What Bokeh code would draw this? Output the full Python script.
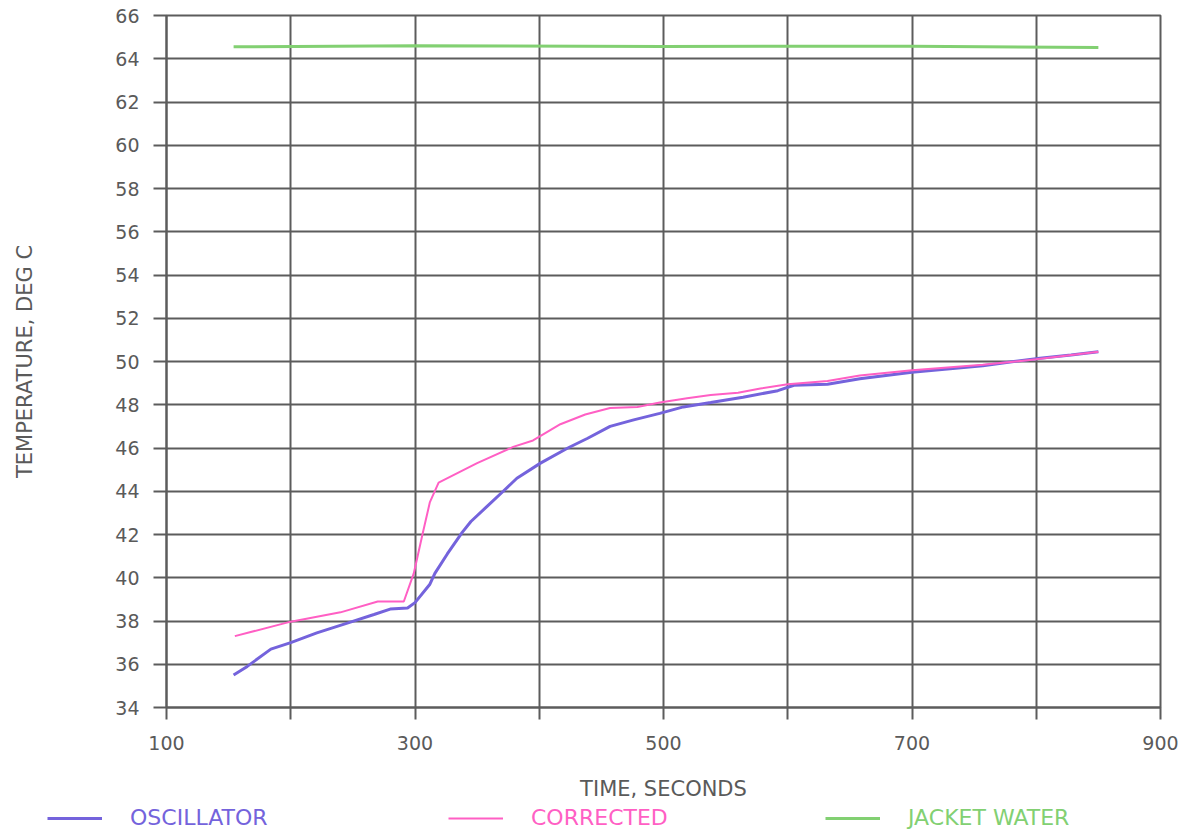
from bokeh.plotting import figure
from bokeh.layouts import column
from bokeh.models import Range1d, FixedTicker, Legend, LegendItem
from bokeh.embed import file_html
from bokeh.resources import INLINE

# ---- data ----
osc_t = [154, 165, 184, 200, 221, 248, 267, 280, 294, 300, 312, 316, 326, 338, 345, 358,
         371, 382, 401, 423, 439, 457, 476, 497, 516, 538, 564, 592, 605, 632, 658, 700,
         757, 782, 803, 828, 850]
osc_T = [35.5, 35.9, 36.7, 37.0, 37.45, 37.95, 38.3, 38.55, 38.6, 38.85, 39.7, 40.2, 41.1,
         42.1, 42.6, 43.3, 44.0, 44.6, 45.3, 46.0, 46.45, 47.0, 47.3, 47.6, 47.9, 48.1,
         48.35, 48.65, 48.9, 48.95, 49.2, 49.5, 49.8, 50.0, 50.15, 50.3, 50.45]

cor_t = [155, 200, 240, 270, 291, 299, 306, 312, 319, 350, 379, 395, 417, 437, 457, 479,
         497, 519, 538, 560, 578, 600, 632, 658, 700, 757, 800, 850]
cor_T = [37.3, 37.97, 38.4, 38.9, 38.9, 40.2, 42.0, 43.5, 44.4, 45.3, 46.05, 46.35, 47.1,
         47.55, 47.85, 47.9, 48.1, 48.3, 48.45, 48.55, 48.75, 48.95, 49.1, 49.35, 49.6,
         49.85, 50.1, 50.45]

jw_t = [154, 300, 500, 700, 850]
jw_T = [64.55, 64.6, 64.57, 64.58, 64.52]

series = [(osc_t, osc_T), (cor_t, cor_T), (jw_t, jw_T)]
series_names = ["OSCILLATOR", "CORRECTED", "JACKET WATER"]

x_ticks = [100, 200, 300, 400, 500, 600, 700, 800, 900]
x_hidden = [200, 400, 600, 800]
y_ticks = list(range(34, 67, 2))

GRID = "#5c5c5c"
TXT = "#5a5a5a"
FONT = "DejaVu Sans"
BLUE = "#7463dc"
PINK = "#ff5fc4"
GREEN = "#82d072"
STYLES = [(BLUE, 3), (PINK, 2), (GREEN, 3)]

p = figure(width=1197, height=803, output_backend="svg", toolbar_location=None,
           x_range=Range1d(100, 900), y_range=Range1d(34, 66))
p.frame_align = False
p.min_border_left = 166
p.min_border_right = 37
p.min_border_top = 15
p.min_border_bottom = 95
p.background_fill_color = "white"
p.border_fill_color = "white"
p.outline_line_color = GRID
p.outline_line_width = 2

p.xaxis.ticker = FixedTicker(ticks=x_ticks)
p.xaxis.major_label_overrides = {t: "" for t in x_hidden}
p.yaxis.ticker = FixedTicker(ticks=y_ticks)
p.xgrid.ticker = FixedTicker(ticks=x_ticks)
p.ygrid.ticker = FixedTicker(ticks=y_ticks)

for g in (p.xgrid, p.ygrid):
    g.grid_line_color = GRID
    g.grid_line_width = 2
    g.grid_line_alpha = 1.0

for ax in (p.xaxis, p.yaxis):
    ax.axis_line_color = GRID
    ax.axis_line_width = 2
    ax.major_tick_line_color = GRID
    ax.major_tick_line_width = 2
    ax.major_tick_in = 0
    ax.minor_tick_line_color = None
    ax.major_label_text_font = FONT
    ax.major_label_text_font_size = "19px"
    ax.major_label_text_color = TXT
    ax.axis_label_text_font = FONT
    ax.axis_label_text_font_size = "21px"
    ax.axis_label_text_font_style = "normal"
    ax.axis_label_text_color = TXT

p.xaxis.major_tick_out = 12
p.xaxis.major_label_standoff = 16
p.xaxis.axis_label = "TIME, SECONDS"
p.xaxis.axis_label_standoff = 24
p.yaxis.major_tick_out = 13
p.yaxis.major_label_standoff = 14
p.yaxis.axis_label = "TEMPERATURE, DEG C"
p.yaxis.axis_label_standoff = 75

for (t, T), (col, w) in zip(series, STYLES):
    p.line(t, T, line_color=col, line_width=w)

# ---- legend strip below the chart ----
leg = figure(width=1197, height=27, output_backend="svg", toolbar_location=None,
             x_range=Range1d(0, 1), y_range=Range1d(0, 1),
             min_border=0, outline_line_color=None)
leg.frame_align = False
leg.min_border_left = 0
leg.min_border_right = 0
leg.min_border_top = 0
leg.min_border_bottom = 0
leg.axis.visible = False
leg.grid.visible = False
leg.background_fill_color = "white"
leg.border_fill_color = "white"

for name, (t, T), (col, w), x0 in zip(series_names, series, STYLES, [47, 448, 825]):
    r = leg.line(t, T, line_color=col, line_width=w)   # out of this strip's range: swatch only
    lg = Legend(items=[LegendItem(label=name, renderers=[r])],
                location=(x0, 0), orientation="horizontal",
                border_line_color=None, background_fill_alpha=0,
                padding=0, margin=0, glyph_width=55, label_standoff=28,
                label_text_font=FONT, label_text_font_size="22px",
                label_text_color=col)
    leg.add_layout(lg, "center")

layout = column(p, leg, spacing=0)
open("out.html", "w").write(file_html(layout, INLINE))
